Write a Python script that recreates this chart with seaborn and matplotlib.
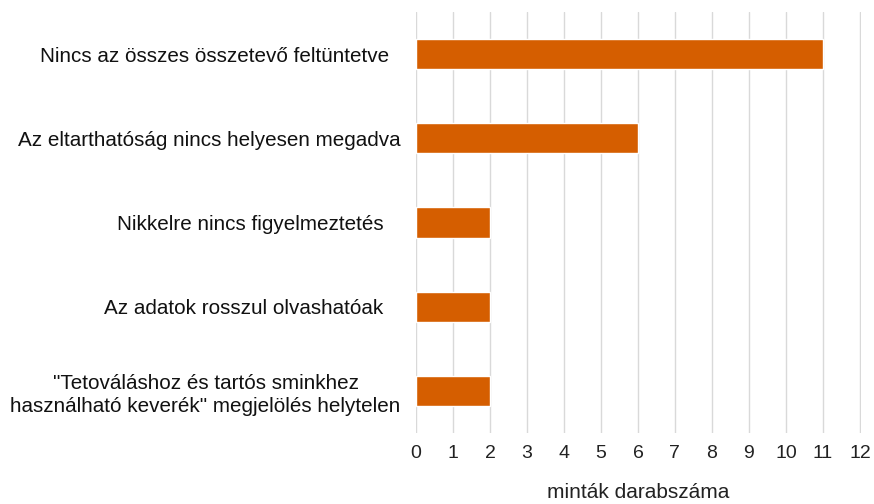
import matplotlib
matplotlib.use("Agg")
import matplotlib.pyplot as plt
import seaborn as sns
import pandas as pd

categories = [
    "Nincs az összes összetevő feltüntetve  ",
    "Az eltarthatóság nincs helyesen megadva",
    "Nikkelre nincs figyelmeztetés   ",
    "Az adatok rosszul olvashatóak   ",
    "\"Tetováláshoz és tartós sminkhez\nhasználható keverék\" megjelölés helytelen",
]
counts = [11, 6, 2, 2, 2]
x_ticks = list(range(0, 13))

df = pd.DataFrame({"category": categories, "count": counts})

sns.set_theme(style="whitegrid")
plt.rcParams["font.family"] = ["Liberation Sans", "DejaVu Sans"]

fig = plt.figure(figsize=(8.74, 5.04), dpi=100)
ax = fig.add_axes([416 / 874, 1 - 433 / 504, 445 / 874, 421 / 504])

sns.barplot(data=df, x="count", y="category", color="#D55E00",
            saturation=1, width=0.36, ax=ax)

ax.set_xlim(0, 12.03)
ax.set_xticks(x_ticks)
ax.set_xlabel("minták darabszáma", fontsize=15, labelpad=15, color="#222222")
ax.set_ylabel("")
ax.tick_params(axis="x", labelsize=14, colors="#222222", pad=9, length=0)
ax.tick_params(axis="y", labelsize=14.9, colors="#111111", pad=11, length=0)
for lbl in ax.get_yticklabels():
    lbl.set_multialignment("center")
    lbl.set_linespacing(1.25)
ax.grid(axis="x", color="#d9d9d9", linewidth=1)
ax.grid(axis="y", visible=False)
ax.set_axisbelow(True)
for s in ax.spines.values():
    s.set_visible(False)
ax.set_facecolor("white")

fig.savefig("out.png", dpi=100, facecolor="white")
